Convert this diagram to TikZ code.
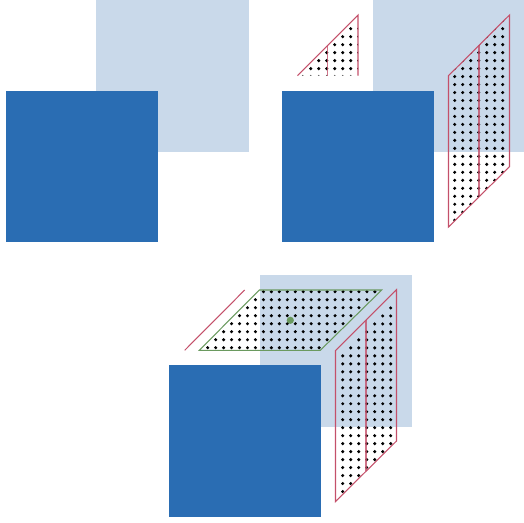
\documentclass[tikz,border=0pt]{standalone}
\definecolor{frontblue}{HTML}{2A6DB3}
\definecolor{backblue}{HTML}{C9D9EA}
\definecolor{edgered}{HTML}{C4506A}
\definecolor{edgegreen}{HTML}{6A9A5F}
\tikzset{
  frontface/.style={fill=frontblue},
  backface/.style={fill=backblue},
  rededge/.style={draw=edgered,line width=1.05pt},
  midedge/.style={rededge,line width=1.3pt,draw opacity=0.8},
  greenedge/.style={draw=edgegreen,line width=1.05pt},
}
% #1,#2 primer punto, #3,#4 ultimos indices
\newcommand{\dotgrid}[4]{
  \foreach \i in {0,...,#3}
    \foreach \j in {0,...,#4}
      \fill[black] ({#1+8*\i},{#2+7.98*\j}) circle (1.7pt);
}
\begin{document}
\begin{tikzpicture}[x=1pt,y=-1pt]
  \useasboundingbox (0,0) rectangle (524,522);
  % primer panel
  \fill[backface] (96,0) rectangle (249,152);
  \fill[frontface] (5.5,90.5) rectangle (157.7,242.2);
  % segundo panel: cuadrados
  \fill[backface] (373,0) rectangle (524,152);
  \fill[frontface] (282,90.5) rectangle (434.2,242.2);
  % segundo panel: triangulo de arriba
  \begin{scope}
    \clip (297.5,75.7)--(358,15)--(358,75.7)--cycle;
    \dotgrid{302.7}{28.7}{7}{6}
  \end{scope}
  \draw[midedge] (327.7,45)--(327.7,75.7);
  \draw[rededge] (297.5,75.7)--(358,15)--(358,75.7);
  % segundo panel: cara derecha
  \begin{scope}
    \clip (448.5,75.7)--(509.5,15)--(509.5,166.7)--(448.5,227)--cycle;
    \dotgrid{454.7}{20.7}{6}{25}
  \end{scope}
  \draw[midedge] (479,45)--(479,196);
  \draw[rededge] (448.5,75.7)--(509.5,15)--(509.5,166.7)--(448.5,227)--cycle;
  % tercer panel: cuadrados
  \fill[backface] (260,274.5) rectangle (412,427);
  \fill[frontface] (169,364.5) rectangle (321.2,517);
  % tercer panel: cara de arriba
  \begin{scope}
    \clip (199.3,350.3)--(259.3,290)--(381.7,290)--(320.3,350.3)--cycle;
    \foreach \i in {0,...,21}
      \foreach \j in {0,...,7}
        \fill[black] ({207.7+7.96*\i},{291.7+8*\j}) circle (1.7pt);
  \end{scope}
  \draw[greenedge] (199.3,350.3)--(259.3,290)--(381.7,290)--(320.3,350.3)--cycle;
  \fill[edgegreen] (290.3,320.3) circle (3.6pt);
  \draw[rededge] (184.7,350.3)--(244.7,290);
  % tercer panel: cara derecha
  \begin{scope}
    \clip (335.5,361)--(396.5,300.5)--(396.5,441)--(335.5,501.5)--cycle;
    \dotgrid{342.7}{300}{6}{24}
  \end{scope}
  \draw[midedge] (366,320)--(366,471);
  \draw[rededge] (335.5,350.5)--(396.5,289.7)--(396.5,441)--(335.5,501.5)--cycle;
\end{tikzpicture}
\end{document}
